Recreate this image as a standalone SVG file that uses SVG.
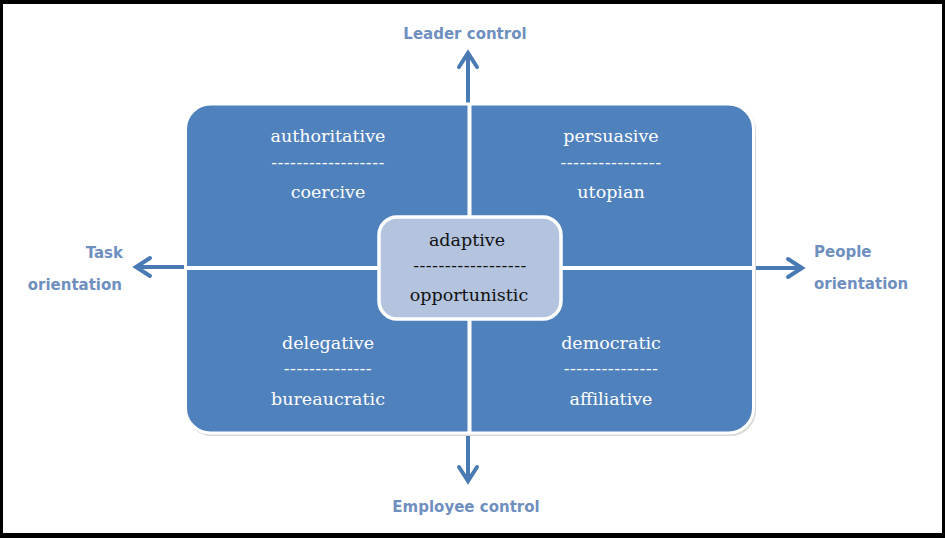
<svg xmlns="http://www.w3.org/2000/svg" width="945" height="538" viewBox="0 0 945 538">
<defs>
<style>
.q{font-family:"DejaVu Serif","Liberation Serif",serif;font-size:17.5px;fill:#ffffff;text-anchor:middle}
.c{font-family:"DejaVu Serif","Liberation Serif",serif;font-size:17.5px;fill:#111111;text-anchor:middle}
.d{letter-spacing:0.4px}
.ax{font-family:"DejaVu Sans","Verdana",sans-serif;font-weight:bold;font-size:15px;fill:#6f8fbf}
.arr{stroke:#4a7ab3;stroke-width:4;fill:none;stroke-linecap:butt}
.head{stroke:#4a7ab3;stroke-width:4;fill:none;stroke-linecap:round;stroke-linejoin:miter}
</style>
</defs>
<rect x="0" y="0" width="945" height="538" fill="#000000"/>
<rect x="3" y="4" width="939" height="529" fill="#ffffff"/>

<g id="connectors">
<line class="arr" x1="468" y1="104" x2="468" y2="54"/>
<polyline class="head" points="459,67 468,53 477,67"/>
<line class="arr" x1="468" y1="434" x2="468" y2="480"/>
<polyline class="head" points="459,467 468,481 477,467"/>
<line class="arr" x1="186" y1="267" x2="138" y2="267"/>
<polyline class="head" points="150,258 136,267 150,276"/>
<line class="arr" x1="754" y1="268" x2="800" y2="268"/>
<polyline class="head" points="788,259 802,268 788,277"/>
</g>

<g id="grid">
<rect x="187" y="106" width="568" height="329" rx="25" fill="none" stroke="#d8d8d8" stroke-width="2"/>
<rect x="185.5" y="104" width="568" height="329" rx="25" fill="#4f81bd" stroke="#ffffff" stroke-width="3"/>
<line x1="469.5" y1="104" x2="469.5" y2="433" stroke="#ffffff" stroke-width="4"/>
<line x1="185.5" y1="268" x2="753.5" y2="268" stroke="#ffffff" stroke-width="4"/>
</g>

<g id="q-top-left">
<text class="q" x="328" y="142">authoritative</text>
<text class="q d" x="328" y="168">------------------</text>
<text class="q" x="328" y="198">coercive</text>
</g>
<g id="q-top-right">
<text class="q" x="611" y="142">persuasive</text>
<text class="q d" x="611" y="168">----------------</text>
<text class="q" x="611" y="198">utopian</text>
</g>
<g id="q-bottom-left">
<text class="q" x="328" y="349">delegative</text>
<text class="q d" x="328" y="374">--------------</text>
<text class="q" x="328" y="405">bureaucratic</text>
</g>
<g id="q-bottom-right">
<text class="q" x="611" y="349">democratic</text>
<text class="q d" x="611" y="374">---------------</text>
<text class="q" x="611" y="405">affiliative</text>
</g>

<g id="center">
<rect x="379" y="217" width="182" height="102" rx="18" fill="#b4c4de" stroke="#ffffff" stroke-width="3.5"/>
<text class="c" x="467" y="246">adaptive</text>
<text class="c d" x="470" y="271">------------------</text>
<text class="c" x="469" y="301">opportunistic</text>
</g>

<g id="label-top"><text class="ax" x="465" y="39" text-anchor="middle">Leader control</text></g>
<g id="label-bottom"><text class="ax" x="466" y="512" text-anchor="middle">Employee control</text></g>
<g id="label-left">
<text class="ax" x="123" y="258" text-anchor="end">Task</text>
<text class="ax" x="122" y="290" text-anchor="end">orientation</text>
</g>
<g id="label-right">
<text class="ax" x="814" y="257">People</text>
<text class="ax" x="814" y="289">orientation</text>
</g>
</svg>
